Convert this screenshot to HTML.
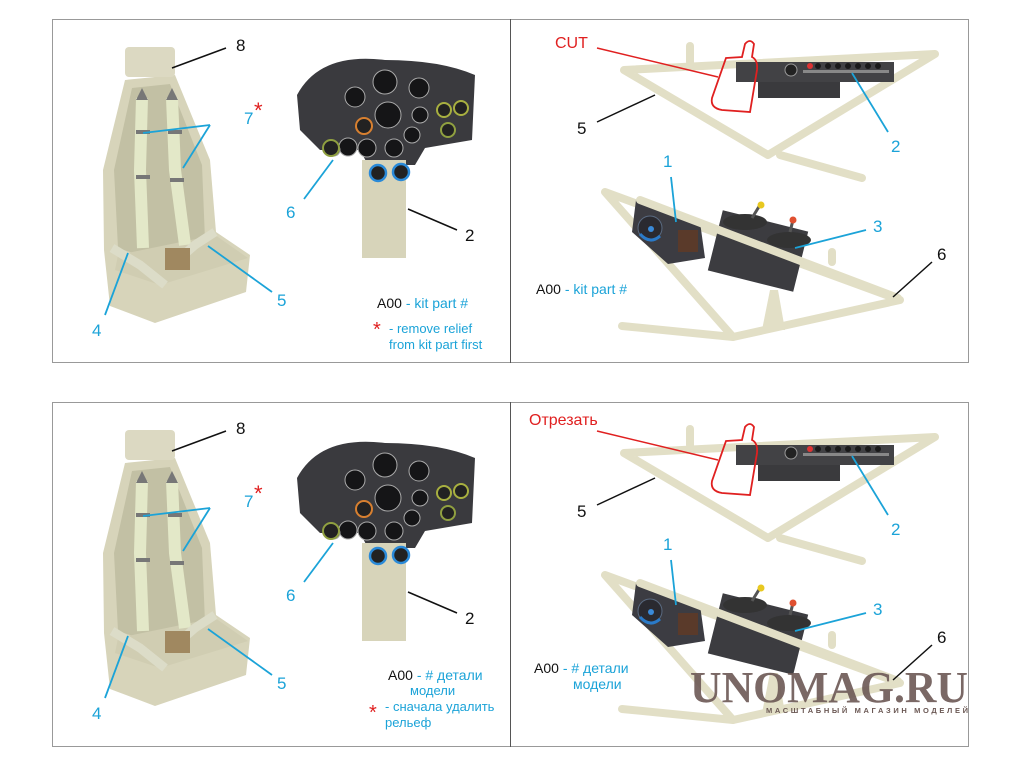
<!DOCTYPE html>
<html><head><meta charset="utf-8"><style>
html,body{margin:0;padding:0;background:#fff;}
svg{display:block;}
text{font-family:"Liberation Sans","Noto Sans CJK SC",sans-serif;}
</style></head><body>
<svg width="1020" height="765" viewBox="0 0 1020 765" xmlns="http://www.w3.org/2000/svg">
<defs>
<g id="art">
  <!-- seat -->
  <polygon points="125,80 175,75 210,160 216,232 250,255 246,292 155,323 110,306 104,250 103,170" fill="#d7d4ba"/>
  <polygon points="132,88 170,84 202,165 205,240 160,262 118,248 114,170" fill="#c2c0a4"/>
  <rect x="125" y="47" width="50" height="30" rx="4" fill="#dcd9c2"/>
  <polygon points="118,255 215,235 248,258 160,285 115,270" fill="#d0cdb2"/>
  <polyline points="142,98 140,170 143,248" fill="none" stroke="#e3e8c8" stroke-width="12"/>
  <polyline points="172,98 175,170 185,245" fill="none" stroke="#e3e8c8" stroke-width="12"/>
  <polyline points="112,248 140,265 165,285" fill="none" stroke="#dcdcc8" stroke-width="9"/>
  <polyline points="215,232 195,245 180,258" fill="none" stroke="#dcdcc8" stroke-width="9"/>
  <rect x="165" y="248" width="25" height="22" fill="#a08860"/>
  <g fill="#777"><rect x="136" y="130" width="14" height="4"/><rect x="136" y="175" width="14" height="4"/><rect x="168" y="130" width="14" height="4"/><rect x="170" y="178" width="14" height="4"/><polygon points="136,100 142,88 148,100"/><polygon points="166,100 172,88 178,100"/></g>
  <!-- instrument panel -->
  <path d="M297,95 Q320,52 385,60 Q440,60 475,75 L472,140 L425,148 L415,165 L368,165 L360,150 L320,150 L300,130 Z" fill="#3a3a3e"/>
  <rect x="362" y="160" width="44" height="98" fill="#d7d4ba"/>
  <g fill="#151517" stroke="#aaa" stroke-width="1">
    <circle cx="355" cy="97" r="10"/><circle cx="385" cy="82" r="12"/><circle cx="419" cy="88" r="10"/>
    <circle cx="388" cy="115" r="13"/><circle cx="420" cy="115" r="8"/><circle cx="348" cy="147" r="9"/>
    <circle cx="367" cy="148" r="9"/><circle cx="394" cy="148" r="9"/><circle cx="412" cy="135" r="8"/>
    <circle cx="334" cy="150" r="6"/>
  </g>
  <circle cx="364" cy="126" r="8" fill="#222" stroke="#d88030" stroke-width="2"/>
  <circle cx="444" cy="110" r="7" fill="#222" stroke="#a8b040" stroke-width="2"/>
  <circle cx="461" cy="108" r="7" fill="#222" stroke="#a8b040" stroke-width="2"/>
  <circle cx="448" cy="130" r="7" fill="#222" stroke="#90a040" stroke-width="2"/>
  <circle cx="331" cy="148" r="8" fill="#222" stroke="#90a040" stroke-width="2"/>
  <circle cx="378" cy="173" r="8" fill="#222" stroke="#2a8ad8" stroke-width="2.5"/>
  <circle cx="401" cy="172" r="8" fill="#222" stroke="#2a8ad8" stroke-width="2.5"/>
  <!-- upper frame 5 -->
  <g fill="none" stroke="#e2dfc6" stroke-width="8" stroke-linecap="round" stroke-linejoin="round">
    <polyline points="690,46 690,62"/>
    <polyline points="935,54 624,70 768,155 935,54"/>
    <polyline points="780,155 862,178"/>
  </g>
  <rect x="736" y="62" width="158" height="20" fill="#424245"/>
  <rect x="758" y="82" width="82" height="16" fill="#3a3a3d"/>
  <circle cx="791" cy="70" r="6" fill="#222" stroke="#999"/>
  <g fill="#1a1a1a"><circle cx="818" cy="66" r="3"/><circle cx="828" cy="66" r="3"/><circle cx="838" cy="66" r="3"/><circle cx="848" cy="66" r="3"/><circle cx="858" cy="66" r="3"/><circle cx="868" cy="66" r="3"/><circle cx="878" cy="66" r="3"/></g>
  <circle cx="810" cy="66" r="3" fill="#d33"/>
  <rect x="803" y="70" width="86" height="3" fill="#888"/>
  <!-- lower frame 6 -->
  <g fill="none" stroke="#e2dfc6" stroke-width="8" stroke-linecap="round" stroke-linejoin="round">
    <polyline points="605,192 733,337 900,300 605,192"/>
    <polyline points="622,326 733,337"/>
    <polyline points="832,252 832,262"/>
  </g>
  <polygon points="762,330 770,290 778,290 785,330" fill="#e2dfc6"/>
  <polygon points="636,200 700,222 705,258 668,264 632,232" fill="#3c3c42"/>
  <circle cx="650" cy="228" r="12" fill="#2a2a30" stroke="#5a6a80"/>
  <circle cx="651" cy="229" r="3" fill="#3a8ad8"/>
  <path d="M640,234 Q650,245 660,236" stroke="#2a7ac8" stroke-width="3" fill="none"/>
  <rect x="678" y="230" width="20" height="22" fill="#5a3a2a"/>
  <rect x="714" y="220" width="88" height="62" fill="#3c3c40" transform="rotate(14 758 251)"/>
  <ellipse cx="745" cy="222" rx="22" ry="8" fill="#333"/>
  <ellipse cx="789" cy="240" rx="22" ry="8" fill="#333"/>
  <line x1="752" y1="218" x2="760" y2="205" stroke="#555" stroke-width="3"/>
  <line x1="790" y1="232" x2="793" y2="220" stroke="#555" stroke-width="3"/>
  <circle cx="761" cy="205" r="3.5" fill="#e8c820"/>
  <circle cx="793" cy="220" r="3.5" fill="#e05030"/>
  <line x1="640" y1="200" x2="898" y2="298" stroke="#e2dfc6" stroke-width="8" stroke-linecap="round"/>
</g>
</defs>

<!-- frames -->
<rect x="52.5" y="19.5" width="916" height="343" fill="none" stroke="#999" stroke-width="1"/>
<line x1="510.5" y1="19" x2="510.5" y2="363" stroke="#555"/>
<rect x="52.5" y="402.5" width="916" height="344" fill="none" stroke="#999" stroke-width="1"/>
<line x1="510.5" y1="402" x2="510.5" y2="747" stroke="#555"/>

<use href="#art"/>
<use href="#art" transform="translate(0,383)"/>

<g font-size="17">
  <line x1="172" y1="68" x2="226" y2="48" stroke="#111" stroke-width="1.5"/><text x="236" y="51" fill="#111">8</text>
  <line x1="143" y1="133" x2="210" y2="125" stroke="#1ba3d8" stroke-width="1.8"/><line x1="183" y1="168" x2="210" y2="125" stroke="#1ba3d8" stroke-width="1.8"/>
  <text x="244" y="124" fill="#1ba3d8">7</text><text x="254" y="118" fill="#e02020" font-size="22">*</text>
  <line x1="333" y1="160" x2="304" y2="199" stroke="#1ba3d8" stroke-width="1.8"/><text x="286" y="218" fill="#1ba3d8">6</text>
  <line x1="408" y1="209" x2="457" y2="230" stroke="#111" stroke-width="1.5"/><text x="465" y="241" fill="#111">2</text>
  <line x1="208" y1="246" x2="272" y2="292" stroke="#1ba3d8" stroke-width="1.8"/><text x="277" y="306" fill="#1ba3d8">5</text>
  <line x1="128" y1="253" x2="105" y2="315" stroke="#1ba3d8" stroke-width="1.8"/><text x="92" y="336" fill="#1ba3d8">4</text>
  <text x="377" y="308" font-size="14" fill="#111">A00 <tspan fill="#1ba3d8">- kit part #</tspan></text>
  <text x="373" y="336" font-size="20" fill="#e02020">*</text>
  <text x="389" y="333" font-size="13" fill="#1ba3d8">- remove relief</text>
  <text x="389" y="349" font-size="13" fill="#1ba3d8">from kit part first</text>

  <text x="555" y="48" font-size="16" fill="#e02020">CUT</text>
  <line x1="597" y1="48" x2="718" y2="77" stroke="#e02020" stroke-width="1.5"/>
  <path d="M726,58 L742,57 L745,44 Q750,38 754,44 L752,57 Q758,60 757,70 L750,112 L722,110 Q710,108 712,98 Z" fill="none" stroke="#e02020" stroke-width="1.8"/>
  <line x1="597" y1="122" x2="655" y2="95" stroke="#111" stroke-width="1.5"/><text x="577" y="134" fill="#111">5</text>
  <line x1="852" y1="73" x2="888" y2="132" stroke="#1ba3d8" stroke-width="1.8"/><text x="891" y="152" fill="#1ba3d8">2</text>
  <line x1="671" y1="177" x2="676" y2="222" stroke="#1ba3d8" stroke-width="1.8"/><text x="663" y="167" fill="#1ba3d8">1</text>
  <line x1="866" y1="230" x2="795" y2="248" stroke="#1ba3d8" stroke-width="1.8"/><text x="873" y="232" fill="#1ba3d8">3</text>
  <line x1="932" y1="262" x2="893" y2="297" stroke="#111" stroke-width="1.5"/><text x="937" y="260" fill="#111">6</text>
  <text x="536" y="294" font-size="14" fill="#111">A00 <tspan fill="#1ba3d8">- kit part #</tspan></text>
</g>

<g font-size="17">
  <line x1="172" y1="451" x2="226" y2="431" stroke="#111" stroke-width="1.5"/><text x="236" y="434" fill="#111">8</text>
  <line x1="143" y1="516" x2="210" y2="508" stroke="#1ba3d8" stroke-width="1.8"/><line x1="183" y1="551" x2="210" y2="508" stroke="#1ba3d8" stroke-width="1.8"/>
  <text x="244" y="507" fill="#1ba3d8">7</text><text x="254" y="501" fill="#e02020" font-size="22">*</text>
  <line x1="333" y1="543" x2="304" y2="582" stroke="#1ba3d8" stroke-width="1.8"/><text x="286" y="601" fill="#1ba3d8">6</text>
  <line x1="408" y1="592" x2="457" y2="613" stroke="#111" stroke-width="1.5"/><text x="465" y="624" fill="#111">2</text>
  <line x1="208" y1="629" x2="272" y2="675" stroke="#1ba3d8" stroke-width="1.8"/><text x="277" y="689" fill="#1ba3d8">5</text>
  <line x1="128" y1="636" x2="105" y2="698" stroke="#1ba3d8" stroke-width="1.8"/><text x="92" y="719" fill="#1ba3d8">4</text>
  <text x="388" y="680" font-size="14" fill="#111">A00 <tspan fill="#1ba3d8">- # детали</tspan></text>
  <text x="410" y="695" font-size="13" fill="#1ba3d8">модели</text>
  <text x="369" y="719" font-size="20" fill="#e02020">*</text>
  <text x="385" y="711" font-size="13" fill="#1ba3d8">- сначала удалить</text>
  <text x="385" y="727" font-size="13" fill="#1ba3d8">рельеф</text>

  <text x="529" y="425" font-size="16" fill="#e02020">Отрезать</text>
  <line x1="597" y1="431" x2="718" y2="460" stroke="#e02020" stroke-width="1.5"/>
  <path d="M726,441 L742,440 L745,427 Q750,421 754,427 L752,440 Q758,443 757,453 L750,495 L722,493 Q710,491 712,481 Z" fill="none" stroke="#e02020" stroke-width="1.8"/>
  <line x1="597" y1="505" x2="655" y2="478" stroke="#111" stroke-width="1.5"/><text x="577" y="517" fill="#111">5</text>
  <line x1="852" y1="456" x2="888" y2="515" stroke="#1ba3d8" stroke-width="1.8"/><text x="891" y="535" fill="#1ba3d8">2</text>
  <line x1="671" y1="560" x2="676" y2="605" stroke="#1ba3d8" stroke-width="1.8"/><text x="663" y="550" fill="#1ba3d8">1</text>
  <line x1="866" y1="613" x2="795" y2="631" stroke="#1ba3d8" stroke-width="1.8"/><text x="873" y="615" fill="#1ba3d8">3</text>
  <line x1="932" y1="645" x2="893" y2="680" stroke="#111" stroke-width="1.5"/><text x="937" y="643" fill="#111">6</text>
  <text x="534" y="673" font-size="14" fill="#111">A00 <tspan fill="#1ba3d8">- # детали</tspan></text>
  <text x="573" y="689" font-size="14" fill="#1ba3d8">модели</text>
</g>

<!-- watermark -->
<text x="690" y="702" style="font-family:'Liberation Serif',serif;font-weight:bold;font-size:44px;" fill="#6b5854" fill-opacity="0.9" textLength="278" lengthAdjust="spacingAndGlyphs">UNOMAG.RU</text>
<text x="766" y="713" style="font-family:'Liberation Sans',sans-serif;font-weight:bold;font-size:7.5px;" fill="#6b5854" textLength="202" lengthAdjust="spacing">МАСШТАБНЫЙ МАГАЗИН МОДЕЛЕЙ</text>
</svg>
</body></html>
